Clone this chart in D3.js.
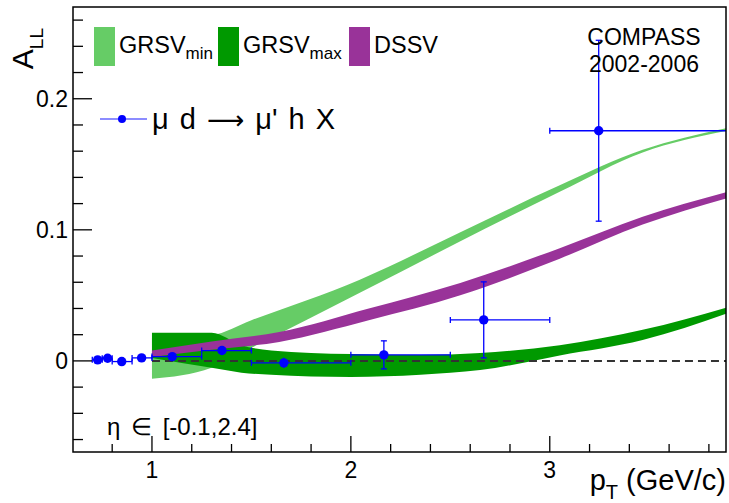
<!DOCTYPE html>
<html>
<head>
<meta charset="utf-8">
<script src="https://d3js.org/d3.v7.min.js"></script>
<style>
  body { margin: 0; background: #fff; }
  svg { font-family: "Liberation Sans", Arial, sans-serif; }
</style>
</head>
<body>
<div class="vis"></div>
<script>
  const width = 729, height = 503;
  const margin = {left: 73, right: 3, top: 7, bottom: 51};

  // COMPASS data points
  const pT     = [0.727, 0.777, 0.848, 0.948, 1.102, 1.352, 1.663, 2.166, 2.668, 3.246];
  const pTLow  = [0.70, 0.75, 0.80, 0.90, 1.00, 1.25, 1.50, 2.00, 2.50, 3.00];
  const pTHigh = [0.75, 0.80, 0.90, 1.00, 1.25, 1.50, 2.00, 2.50, 3.00, 4.00];
  const all    = [0.0008, 0.002, -0.0005, 0.0023, 0.0033, 0.0079, -0.0015, 0.0046, 0.0313, 0.1756];
  const allErr = [0.002, 0.002, 0.002, 0.002, 0.003, 0.003, 0.004, 0.0107, 0.029, 0.069];

  // theory bands: [pT, low, high]
  const grsvMin = [
    [1.0, -0.0137, 0.018], [1.3, -0.0053, 0.0198], [1.5, 0.010, 0.031],
    [2.045, 0.052, 0.062], [2.548, 0.091, 0.098],
    [3.05, 0.129, 0.134], [3.467, 0.159, 0.161], [3.9, 0.1758, 0.178]
  ];
  const grsvMax = [
    [1.0, 0.0023, 0.0214], [1.3, -0.0053, 0.0214], [1.45, -0.009, 0.012],
    [1.6, -0.0105, 0.008], [2.0, -0.0122, 0.0052], [2.35, -0.0105, 0.0045],
    [2.65, -0.007, 0.006], [3.05, 0.0042, 0.012],
    [3.467, 0.016, 0.0237], [3.9, 0.0368, 0.0412]
  ];
  const dssv = [
    [1.0, 0.003, 0.008], [1.3, 0.0085, 0.0148], [1.64, 0.0145, 0.022],
    [2.09, 0.031, 0.040], [2.55, 0.050, 0.0595], [3.05, 0.078, 0.086],
    [3.467, 0.104, 0.110], [3.9, 0.1246, 0.1292]
  ];

  const yMajor = [0, 0.1, 0.2];
  const xMajor = [1, 2, 3];

  const svg = d3.select(".vis").append("svg")
    .attr("width", width).attr("height", height);

  const x = d3.scaleLinear().domain([0.603, 3.886]).range([margin.left, width - margin.right]);
  const y = d3.scaleLinear().domain([-0.0695, 0.270]).range([height - margin.bottom, margin.top]);

  svg.append("clipPath").attr("id", "clip")
    .append("rect")
    .attr("x", margin.left).attr("y", margin.top)
    .attr("width", width - margin.left - margin.right)
    .attr("height", height - margin.top - margin.bottom);

  const plot = svg.append("g").attr("clip-path", "url(#clip)");

  const area = d3.area()
    .x(d => x(d[0])).y0(d => y(d[1])).y1(d => y(d[2]))
    .curve(d3.curveMonotoneX);

  // Bands
  plot.append("path").datum(grsvMin).attr("d", area).attr("fill", "#66cc66");
  plot.append("path").datum(grsvMax).attr("d", area).attr("fill", "#009900");
  plot.append("path").datum(dssv).attr("d", area).attr("fill", "#993399");

  // zero line
  plot.append("line")
    .attr("x1", x(1)).attr("x2", x(3.886))
    .attr("y1", y(0)).attr("y2", y(0))
    .attr("stroke", "#333").attr("stroke-width", 2)
    .attr("stroke-dasharray", "8,5");

  // data points
  const pts = d3.range(pT.length);
  const eb = plot.append("g").attr("stroke", "#0000ff").attr("stroke-width", 1.3);
  eb.selectAll(".h").data(pts).join("line")
    .attr("x1", i => x(pTLow[i])).attr("x2", i => x(pTHigh[i]))
    .attr("y1", i => y(all[i])).attr("y2", i => y(all[i]));
  eb.selectAll(".v").data(pts).join("line")
    .attr("x1", i => x(pT[i])).attr("x2", i => x(pT[i]))
    .attr("y1", i => y(all[i] - allErr[i])).attr("y2", i => y(all[i] + allErr[i]));
  // caps
  eb.selectAll(".capx").data(pts.flatMap(i => [[pTLow[i], all[i]], [pTHigh[i], all[i]]])).join("line")
    .attr("x1", d => x(d[0])).attr("x2", d => x(d[0]))
    .attr("y1", d => y(d[1]) - 3).attr("y2", d => y(d[1]) + 3);
  eb.selectAll(".capy").data(pts.filter(i => allErr[i] > 0.006).flatMap(i => [[pT[i], all[i] - allErr[i]], [pT[i], all[i] + allErr[i]]])).join("line")
    .attr("x1", d => x(d[0]) - 3).attr("x2", d => x(d[0]) + 3)
    .attr("y1", d => y(d[1])).attr("y2", d => y(d[1]));
  plot.append("g").selectAll("circle").data(pts).join("circle")
    .attr("cx", i => x(pT[i])).attr("cy", i => y(all[i]))
    .attr("r", 4.7).attr("fill", "#0000ff");

  // frame
  svg.append("rect")
    .attr("x", margin.left).attr("y", margin.top)
    .attr("width", width - margin.left - margin.right)
    .attr("height", height - margin.top - margin.bottom)
    .attr("fill", "none").attr("stroke", "#000").attr("stroke-width", 1.5);

  // Y axis ticks
  const yMinor = d3.range(-6, 27, 2).map(v => v / 100);
  const yAxis = svg.append("g").attr("stroke", "#000").attr("stroke-width", 1.3);
  yAxis.selectAll("line").data(yMinor).join("line")
    .attr("x1", margin.left)
    .attr("x2", d => margin.left + (yMajor.some(m => Math.abs(m - d) < 1e-9) ? 19 : 10))
    .attr("y1", d => y(d)).attr("y2", d => y(d));
  svg.append("g").selectAll("text").data(yMajor).join("text")
    .attr("x", margin.left - 5).attr("y", d => y(d) + 8)
    .attr("text-anchor", "end").attr("font-size", 23)
    .text(d => d3.format("")(d));

  // X axis ticks
  const xMinor = d3.range(4, 20).map(v => v / 5);
  const yb = height - margin.bottom;
  const xAxis = svg.append("g").attr("stroke", "#000").attr("stroke-width", 1.3);
  xAxis.selectAll("line").data(xMinor).join("line")
    .attr("x1", d => x(d)).attr("x2", d => x(d))
    .attr("y1", yb)
    .attr("y2", d => yb - (xMajor.some(m => Math.abs(m - d) < 1e-9) ? 16 : 8));
  svg.append("g").selectAll("text").data(xMajor).join("text")
    .attr("x", d => x(d)).attr("y", 478)
    .attr("text-anchor", "middle").attr("font-size", 23)
    .text(d => d);

  // axis titles
  const xt = svg.append("text").attr("x", 726).attr("y", 490)
    .attr("text-anchor", "end").attr("font-size", 29);
  xt.append("tspan").text("p");
  xt.append("tspan").attr("font-size", 20).attr("dy", 9).text("T");
  xt.append("tspan").attr("dy", -9).text(" (GeV/c)");

  const yt = svg.append("text").attr("transform", "translate(33,28) rotate(-90)")
    .attr("text-anchor", "end").attr("font-size", 30);
  yt.append("tspan").text("A");
  yt.append("tspan").attr("font-size", 19).attr("dy", 10).text("LL");

  // legend
  const legendItems = [
    {x: 94, color: "#66cc66", main: "GRSV", sub: "min"},
    {x: 218, color: "#009900", main: "GRSV", sub: "max"},
    {x: 349, color: "#993399", main: "DSSV", sub: ""}
  ];
  const lg = svg.append("g");
  legendItems.forEach(d => {
    lg.append("rect").attr("x", d.x).attr("y", 27).attr("width", 21).attr("height", 39).attr("fill", d.color);
    const t = lg.append("text").attr("x", d.x + 25).attr("y", 53).attr("font-size", 23.5);
    t.append("tspan").text(d.main);
    if (d.sub) t.append("tspan").attr("font-size", 17).attr("dy", 6).text(d.sub);
  });

  lg.append("line").attr("x1", 100).attr("x2", 147).attr("y1", 119).attr("y2", 119)
    .attr("stroke", "#6666ff").attr("stroke-width", 1.5);
  lg.append("circle").attr("cx", 122).attr("cy", 119).attr("r", 4).attr("fill", "#0000ff");
  const lt = lg.append("text").attr("x", 152).attr("y", 129).attr("font-size", 29)
    .attr("word-spacing", 3);
  lt.append("tspan").text("\u03bc d ");
  lt.append("tspan").attr("font-family", "DejaVu Sans").attr("font-size", 26).text("\u27f6");
  lt.append("tspan").text(" \u03bc' h X");

  svg.append("text").attr("x", 644).attr("y", 45).attr("text-anchor", "middle")
    .attr("font-size", 23).text("COMPASS");
  svg.append("text").attr("x", 644).attr("y", 72).attr("text-anchor", "middle")
    .attr("font-size", 23).text("2002-2006");

  svg.append("text").attr("x", 107).attr("y", 435).attr("font-size", 24)
    .attr("word-spacing", 4)
    .text("\u03b7 \u2208 [-0.1,2.4]");
</script>
</body>
</html>
